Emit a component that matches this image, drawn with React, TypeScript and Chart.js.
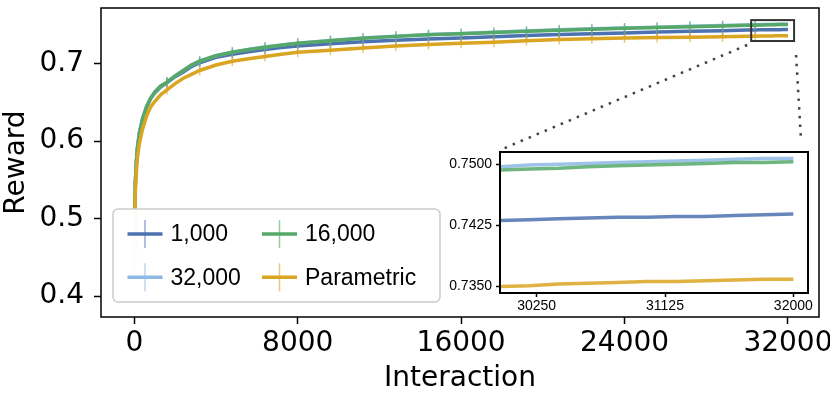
import React, { useEffect, useRef } from 'react';
import { Chart, registerables } from 'chart.js';

Chart.register(...registerables);

// Interaction steps (x values)
const X = [
  0, 50, 100, 150, 250, 400, 600, 800, 1000, 1300,
  1600, 2000, 2400, 2800, 3200, 4000, 4800, 5600, 6400, 7200,
  8000, 9600, 11200, 12800, 14400, 16000, 17600, 19200, 20800, 22400,
  24000, 25600, 27200, 28800, 30000, 30200, 30400, 30600, 30800, 31000,
  31200, 31400, 31600, 31800, 32000,
];

// Reward series
const R1000 = [
  0.43, 0.545, 0.572, 0.59, 0.61, 0.628, 0.644, 0.655, 0.662, 0.67,
  0.675, 0.683, 0.689, 0.696, 0.701, 0.708, 0.712, 0.715, 0.718, 0.7205,
  0.7225, 0.7255, 0.728, 0.73, 0.7315, 0.733, 0.7345, 0.736, 0.7375, 0.7385,
  0.7395, 0.7405, 0.7415, 0.7423, 0.7431, 0.7432, 0.7433, 0.7434, 0.7435, 0.7435,
  0.7436, 0.7436, 0.7437, 0.7438, 0.7439,
];
const R32000 = [
  0.43, 0.545, 0.572, 0.59, 0.61, 0.628, 0.644, 0.655, 0.663, 0.671,
  0.676, 0.684, 0.691, 0.698, 0.703, 0.71, 0.7147, 0.7182, 0.7213, 0.7238,
  0.7263, 0.7298, 0.7328, 0.7353, 0.7373, 0.7388, 0.7403, 0.7419, 0.7434, 0.7447,
  0.7459, 0.7469, 0.7479, 0.7489, 0.7497, 0.7499, 0.75, 0.7501, 0.7502, 0.7503,
  0.7504, 0.7505, 0.7506, 0.7507, 0.7507,
];
const R16000 = [
  0.43, 0.545, 0.572, 0.59, 0.61, 0.628, 0.644, 0.655, 0.663, 0.671,
  0.676, 0.684, 0.691, 0.698, 0.703, 0.71, 0.7145, 0.718, 0.721, 0.7235,
  0.726, 0.7295, 0.7325, 0.735, 0.737, 0.7385, 0.74, 0.7415, 0.743, 0.7443,
  0.7455, 0.7465, 0.7475, 0.7485, 0.7493, 0.7494, 0.7495, 0.7497, 0.7498, 0.7499,
  0.75, 0.7501, 0.7502, 0.7502, 0.7503,
];
const RPARAM = [
  0.43, 0.535, 0.56, 0.578, 0.597, 0.615, 0.632, 0.644, 0.651, 0.66,
  0.666, 0.674, 0.681, 0.686, 0.691, 0.698, 0.703, 0.706, 0.709, 0.712,
  0.7145, 0.717, 0.72, 0.7225, 0.7245, 0.726, 0.7275, 0.7295, 0.731, 0.732,
  0.733, 0.7335, 0.734, 0.7345, 0.735, 0.7351, 0.7353, 0.7354, 0.7355, 0.7356,
  0.7356, 0.7357, 0.7358, 0.7359, 0.7359,
];

const LABELS = ['1,000', '32,000', '16,000', 'Parametric'];
const COLORS: [number, number, number][] = [
  [76, 114, 176],
  [141, 185, 228],
  [85, 168, 104],
  [218, 165, 32],
];

const MAIN_X_TICKS = [0, 8000, 16000, 24000, 32000];
const MAIN_Y_TICKS = [0.4, 0.5, 0.6, 0.7];
const INSET_X_TICKS = [30250, 31125, 32000];
const INSET_Y_TICKS = [0.735, 0.7425, 0.75];
const ERR_EVERY = 1600;
const ERR_LAST = 30400;
const ZOOM_X = [30200, 32300];
const ZOOM_Y = [0.729, 0.756];

const rgba = (c: [number, number, number], a: number) => `rgba(${c[0]},${c[1]},${c[2]},${a})`;

const INSET_LEFT = 440;
const INSET_TOP = 140;
const INSET_W = 390;
const INSET_H = 178;

export default function App() {
  const mainRef = useRef<HTMLCanvasElement>(null);
  const insetRef = useRef<HTMLCanvasElement>(null);

  useEffect(() => {
    const series = [R1000, R32000, R16000, RPARAM];
    const toPts = (arr: number[]) => X.map((x, i) => ({ x, y: arr[i] }));

    const insetPlugin = {
      id: 'insetFrame',
      beforeDraw(chart: any) {
        const { ctx, chartArea: ca } = chart;
        ctx.save();
        ctx.fillStyle = '#fff';
        ctx.fillRect(ca.left, ca.top, ca.right - ca.left, ca.bottom - ca.top);
        ctx.restore();
      },
      afterDraw(chart: any) {
        const { ctx, chartArea: ca } = chart;
        ctx.save();
        ctx.strokeStyle = '#000';
        ctx.lineWidth = 2;
        ctx.strokeRect(ca.left, ca.top, ca.right - ca.left, ca.bottom - ca.top);
        ctx.restore();
      },
    };

    const insetFont = { family: "'Liberation Sans', Arial, sans-serif", size: 14 };
    const inset = new Chart(insetRef.current!, {
      type: 'line',
      data: {
        datasets: series.map((s, i) => ({
          label: LABELS[i],
          data: toPts(s),
          borderColor: rgba(COLORS[i], 0.85),
          borderWidth: 3.5,
          pointRadius: 0,
          tension: 0,
          order: 3 - i,
        })),
      },
      options: {
        animation: false,
        responsive: false,
        maintainAspectRatio: false,
        events: [],
        layout: { padding: { left: 0, top: 12, right: 22, bottom: 0 } },
        plugins: { legend: { display: false }, tooltip: { enabled: false } },
        scales: {
          x: {
            type: 'linear',
            min: 30000,
            max: 32100,
            afterBuildTicks: (s: any) => {
              s.ticks = INSET_X_TICKS.map((v) => ({ value: v }));
            },
            afterFit: (s: any) => {
              s.height = 25;
              s.paddingLeft = 0;
              s.paddingRight = 0;
            },
            ticks: {
              callback: (v: any) => String(v),
              font: insetFont,
              color: '#000',
              padding: 1,
              maxRotation: 0,
              autoSkip: false,
            },
            grid: { drawOnChartArea: false, tickLength: 4, tickWidth: 1.5, tickColor: '#000' },
            border: { display: false },
          },
          y: {
            type: 'linear',
            min: 0.7342,
            max: 0.7515,
            afterBuildTicks: (s: any) => {
              s.ticks = INSET_Y_TICKS.map((v) => ({ value: v }));
            },
            afterFit: (s: any) => {
              s.width = 60;
              s.paddingTop = 0;
              s.paddingBottom = 0;
            },
            ticks: {
              callback: (v: any) => Number(v).toFixed(4),
              font: insetFont,
              color: '#000',
              padding: 4,
              autoSkip: false,
            },
            grid: { drawOnChartArea: false, tickLength: 4, tickWidth: 1.5, tickColor: '#000' },
            border: { display: false },
          },
        },
      },
      plugins: [insetPlugin],
    } as any);

    const mainPlugin = {
      id: 'mainOverlay',
      afterDraw(chart: any) {
        const { ctx, chartArea: ca, scales } = chart;
        const xs = scales.x;
        const ys = scales.y;
        ctx.save();
        // frame
        ctx.strokeStyle = '#000';
        ctx.lineWidth = 1.5;
        ctx.strokeRect(ca.left, ca.top, ca.right - ca.left, ca.bottom - ca.top);

        // zoom box
        const bx0 = xs.getPixelForValue(ZOOM_X[0]);
        const bx1 = xs.getPixelForValue(ZOOM_X[1]);
        const by0 = ys.getPixelForValue(ZOOM_Y[1]);
        const by1 = ys.getPixelForValue(ZOOM_Y[0]);
        ctx.strokeStyle = '#333';
        ctx.lineWidth = 2;
        ctx.strokeRect(bx0, by0, bx1 - bx0, by1 - by0);

        // connector dotted lines
        const ia = inset.chartArea;
        const iLeft = INSET_LEFT + ia.left;
        const iRight = INSET_LEFT + ia.right;
        const iTop = INSET_TOP + ia.top;
        ctx.strokeStyle = '#444';
        ctx.lineWidth = 2.5;
        ctx.setLineDash([2.5, 6.2]);
        ctx.beginPath();
        ctx.moveTo(bx0 - 4, by1 + 4);
        ctx.lineTo(iLeft, iTop - 2);
        ctx.stroke();
        ctx.beginPath();
        ctx.moveTo(bx1 + 2, by1 + 14);
        ctx.lineTo(iRight - 7, iTop - 12);
        ctx.stroke();
        ctx.setLineDash([]);

        // legend
        const lx = ca.left + 12;
        const lw = 327;
        const lh = 93;
        const ly = ca.bottom - 15 - lh;
        ctx.beginPath();
        (ctx as any).roundRect(lx, ly, lw, lh, 5);
        ctx.fillStyle = 'rgba(255,255,255,0.97)';
        ctx.fill();
        ctx.strokeStyle = '#cccccc';
        ctx.lineWidth = 1.5;
        ctx.stroke();

        const colX = [lx + 14.5, lx + 149];
        const rowY = [ly + 25, ly + 68.3];
        const handleW = 35;
        ctx.font = "23px 'Liberation Sans', Arial, sans-serif";
        ctx.textBaseline = 'middle';
        ctx.textAlign = 'left';
        for (let i = 0; i < 4; i++) {
          const col = Math.floor(i / 2);
          const row = i % 2;
          const hx = colX[col];
          const hy = rowY[row];
          ctx.strokeStyle = rgba(COLORS[i], 1);
          ctx.lineWidth = 3.5;
          ctx.beginPath();
          ctx.moveTo(hx, hy);
          ctx.lineTo(hx + handleW, hy);
          ctx.stroke();
          ctx.strokeStyle = rgba(COLORS[i], 0.6);
          ctx.lineWidth = 1.5;
          ctx.beginPath();
          ctx.moveTo(hx + handleW / 2, hy - 14);
          ctx.lineTo(hx + handleW / 2, hy + 14);
          ctx.stroke();
          ctx.fillStyle = '#000';
          ctx.fillText(LABELS[i], hx + handleW + 8, hy + 1);
        }
        ctx.restore();
      },
    };

    const mainFont = { family: "'DejaVu Sans', sans-serif", size: 28 };
    const main = new Chart(mainRef.current!, {
      type: 'line',
      data: {
        datasets: series.map((s, i) => ({
          label: LABELS[i],
          data: toPts(s),
          borderColor: rgba(COLORS[i], 1),
          borderWidth: 3.5,
          tension: 0,
          order: 3 - i,
          pointStyle: 'line',
          rotation: 90,
          pointRadius: (c: any) => {
            const xv = X[c.dataIndex];
            return xv % ERR_EVERY === 0 && xv <= ERR_LAST ? 5 : 0;
          },
          pointHoverRadius: 0,
          pointBorderWidth: 1.5,
          pointBorderColor: rgba(COLORS[i], 0.6),
          pointBackgroundColor: rgba(COLORS[i], 0.6),
        })),
      },
      options: {
        animation: false,
        responsive: false,
        maintainAspectRatio: false,
        events: [],
        layout: { padding: { left: 0, top: 8, right: 11, bottom: 0 } },
        plugins: { legend: { display: false }, tooltip: { enabled: false } },
        scales: {
          x: {
            type: 'linear',
            min: -1630,
            max: 33520,
            afterBuildTicks: (s: any) => {
              s.ticks = MAIN_X_TICKS.map((v) => ({ value: v }));
            },
            afterFit: (s: any) => {
              s.height = 81;
              s.paddingLeft = 0;
              s.paddingRight = 0;
            },
            ticks: {
              callback: (v: any) => String(v),
              font: mainFont,
              color: '#000',
              padding: 3,
              maxRotation: 0,
              autoSkip: false,
            },
            title: {
              display: true,
              text: 'Interaction',
              font: mainFont,
              color: '#000',
              padding: { top: 0, bottom: 2 },
            },
            grid: { drawOnChartArea: false, tickLength: 7, tickWidth: 1.5, tickColor: '#000' },
            border: { display: false },
          },
          y: {
            type: 'linear',
            min: 0.373,
            max: 0.7716,
            afterBuildTicks: (s: any) => {
              s.ticks = MAIN_Y_TICKS.map((v) => ({ value: v }));
            },
            afterFit: (s: any) => {
              s.width = 101;
              s.paddingTop = 0;
              s.paddingBottom = 0;
            },
            ticks: {
              callback: (v: any) => Number(v).toFixed(1),
              font: mainFont,
              color: '#000',
              padding: 10,
              autoSkip: false,
            },
            title: {
              display: true,
              text: 'Reward',
              font: mainFont,
              color: '#000',
              padding: { top: 0, bottom: 0 },
            },
            grid: { drawOnChartArea: false, tickLength: 7, tickWidth: 1.5, tickColor: '#000' },
            border: { display: false },
          },
        },
      },
      plugins: [mainPlugin],
    } as any);

    return () => {
      main.destroy();
      inset.destroy();
    };
  }, []);

  return (
    <div style={{ position: 'absolute', left: 0, top: 0, width: 830, height: 398, background: '#fff', overflow: 'hidden' }}>
      <canvas ref={mainRef} width={830} height={398} style={{ position: 'absolute', left: 0, top: 0 }} />
      <canvas
        ref={insetRef}
        width={INSET_W}
        height={INSET_H}
        style={{ position: 'absolute', left: INSET_LEFT, top: INSET_TOP }}
      />
    </div>
  );
}
